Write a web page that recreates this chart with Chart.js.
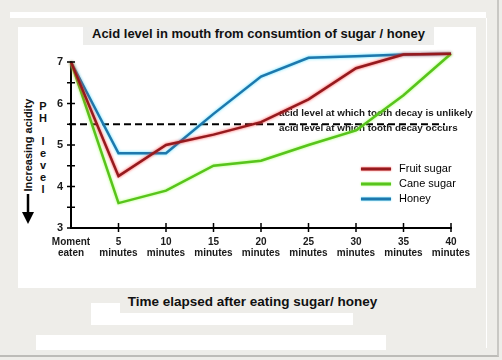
<!DOCTYPE html>
<html><head><meta charset="utf-8">
<script src="https://cdn.jsdelivr.net/npm/chart.js@4/dist/chart.umd.min.js"></script>
<style>
html,body{margin:0;padding:0;}
body{width:502px;height:360px;background:#eeede9;position:relative;overflow:hidden;font-family:"Liberation Sans",Arial,sans-serif;color:#111;}
.w{position:absolute;background:#fff;}
.t{position:absolute;white-space:nowrap;font-weight:bold;}
#c{position:absolute;left:0;top:0;}
</style></head>
<body>
<div style="position:absolute;left:0;top:0;width:497px;height:355px;border-right:2px solid #c9c8c4;border-bottom:2px solid #bdbcb8;"></div>
<div class="w" style="left:10px;top:12px;width:476px;height:6px;"></div>
<div class="w" style="left:486px;top:18px;width:1px;height:330px;"></div>
<div class="w" style="left:18px;top:27px;width:458px;height:261px;"></div>
<div style="position:absolute;left:83px;top:27px;width:351px;height:18px;background:#ededeb;"></div>
<div class="t" style="left:0;width:517px;top:26px;text-align:center;font-size:13px;line-height:16px;">Acid level in mouth from consumtion of sugar / honey</div>
<div class="w" style="left:91px;top:303px;width:29px;height:10px;"></div>
<div class="w" style="left:91px;top:313px;width:262px;height:12px;"></div>
<div class="w" style="left:36px;top:335px;width:350px;height:15px;"></div>
<div class="t" style="left:0;width:505px;top:294px;text-align:center;font-size:13.5px;line-height:16px;">Time elapsed after eating sugar/ honey</div>
<div class="t" style="left:28px;top:145px;font-size:11px;transform:translate(-50%,-50%) rotate(-90deg);">Increasing acidity</div>
<svg style="position:absolute;left:0;top:0" width="60" height="240"><line x1="28" y1="194" x2="28" y2="214" stroke="#000" stroke-width="2.5"/><polygon points="22,212 34,212 28,224" fill="#000"/></svg>
<div class="t" style="left:37px;top:101px;width:12px;text-align:center;font-size:11px;line-height:11.8px;">P<br>H<br><br>l<br>e<br>v<br>e<br>l</div>
<canvas id="c" width="502" height="360"></canvas>
<script>
const categories = [["Moment","eaten"],["5","minutes"],["10","minutes"],["15","minutes"],["20","minutes"],["25","minutes"],["30","minutes"],["35","minutes"],["40","minutes"]];
const fruitSugar = [7, 4.25, 5.0, 5.25, 5.55, 6.1, 6.85, 7.18, 7.2];
const caneSugar  = [7, 3.6, 3.9, 4.5, 4.62, 5.0, 5.35, 6.2, 7.2];
const honey      = [7, 4.8, 4.8, 5.75, 6.65, 7.1, 7.14, 7.18, 7.2];
const seriesNames = ["Fruit sugar","Cane sugar","Honey"];
const yTicks = [3, 4, 5, 6, 7];
const threshold = 5.5;
const thresholdLabels = ["acid level at which tooth decay is unlikely","acid level at which tooth decay occurs"];

const glows = ["rgba(255,40,40,0.85)","rgba(150,255,80,0.85)","rgba(60,220,255,0.85)"];

const decor = {
  id:'decor',
  beforeDatasetDraw(chart, args){
    const ctx = chart.ctx; ctx.save();
    ctx.shadowColor = glows[args.index]; ctx.shadowBlur = 3;
  },
  afterDatasetDraw(chart){ chart.ctx.restore(); },
  beforeDatasetsDraw(chart){
    const ctx = chart.ctx, a = chart.chartArea, xs = chart.scales.x, ys = chart.scales.y;
    ctx.save();
    const ty = ys.getPixelForValue(threshold);
    ctx.strokeStyle = '#000'; ctx.lineWidth = 2; ctx.setLineDash([7,4]);
    ctx.beginPath(); ctx.moveTo(a.left - 2, ty); ctx.lineTo(a.right - 6, ty); ctx.stroke();
    ctx.setLineDash([]);
    ctx.font = 'bold 9.8px "Liberation Sans", Arial, sans-serif';
    ctx.fillStyle = '#1a1a1a'; ctx.textAlign = 'left'; ctx.textBaseline = 'middle';
    const tx = xs.getPixelForValue(4) + 18;
    ctx.fillText(thresholdLabels[0], tx, ty - 11);
    ctx.fillText(thresholdLabels[1], tx, ty + 4.5);
    ctx.restore();
  },
  afterDraw(chart){
    const ctx = chart.ctx, a = chart.chartArea, xs = chart.scales.x, ys = chart.scales.y;
    ctx.save();
    ctx.strokeStyle = '#000'; ctx.lineWidth = 1.5;
    for (let v = ys.min; v <= ys.max; v += 0.5){
      const y = ys.getPixelForValue(v);
      ctx.beginPath(); ctx.moveTo(a.left - 4, y); ctx.lineTo(a.left + 4, y); ctx.stroke();
    }
    for (let i = 1; i < categories.length; i++){
      const x = xs.getPixelForValue(i);
      ctx.beginPath(); ctx.moveTo(x, a.bottom - 5); ctx.lineTo(x, a.bottom + 4); ctx.stroke();
    }
    ctx.font = '11px "Liberation Sans", Arial, sans-serif';
    ctx.textBaseline = 'middle'; ctx.textAlign = 'left';
    chart.data.datasets.forEach((ds, i) => {
      const y = a.top + 107 + i * 15;
      ctx.save();
      ctx.shadowColor = glows[i]; ctx.shadowBlur = 2;
      ctx.strokeStyle = ds.borderColor; ctx.lineWidth = 3;
      ctx.beginPath(); ctx.moveTo(a.right - 90, y); ctx.lineTo(a.right - 60, y); ctx.stroke();
      ctx.restore();
      ctx.fillStyle = '#000';
      ctx.fillText(ds.label, a.right - 52, y);
    });
    ctx.restore();
  }
};

new Chart(document.getElementById('c'), {
  type: 'line',
  data: {
    labels: categories,
    datasets: [
      {label: seriesNames[0], data: fruitSugar, borderColor: '#951a1e'},
      {label: seriesNames[1], data: caneSugar, borderColor: '#58c41c'},
      {label: seriesNames[2], data: honey, borderColor: '#1d78ad'}
    ].map(d => Object.assign(d, {borderWidth: 2.5, pointRadius: 0, tension: 0, clip: false, fill: false}))
  },
  options: {
    responsive: false, animation: false, devicePixelRatio: 1,
    layout: {padding: {top: 62, right: 51, bottom: 92, left: 0}},
    plugins: {legend: {display: false}, tooltip: {enabled: false}},
    scales: {
      x: {
        offset: false,
        grid: {display: false, drawTicks: false},
        border: {display: true, color: '#000', width: 2},
        ticks: {autoSkip: false, maxRotation: 0, padding: 9, color: '#1a1a1a',
                font: {family: '"Liberation Sans", Arial, sans-serif', size: 10, weight: 'bold', lineHeight: 1.1}},
        afterFit(s){ s.height = 40; }
      },
      y: {
        min: 3, max: 7,
        afterBuildTicks(s){ s.ticks = yTicks.map(v => ({value: v})); },
        grid: {display: false, drawTicks: false},
        border: {display: true, color: '#000', width: 2},
        ticks: {padding: 8, color: '#1a1a1a',
                font: {family: '"Liberation Sans", Arial, sans-serif', size: 11, weight: 'bold'}},
        afterFit(s){ s.width = 71; }
      }
    }
  },
  plugins: [decor]
});
</script>
</body></html>
